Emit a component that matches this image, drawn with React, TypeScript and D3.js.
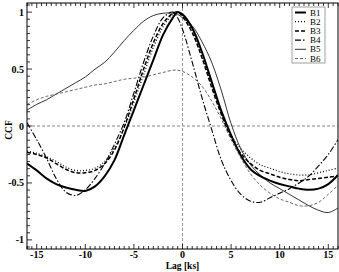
import React from 'react';
import * as d3 from 'd3';

// lags in ks, shared by all bands
const lags = [-16, -15, -14, -13, -12, -11, -10, -9, -8, -7, -6, -5, -4, -3, -2, -1, -0.5,
  0, 1, 2, 3, 4, 5, 6, 7, 8, 9, 10, 11, 12, 13, 14, 15, 16];

const b1 = [-0.33, -0.39, -0.46, -0.51, -0.54, -0.56, -0.57, -0.53, -0.44, -0.3, -0.08, 0.14, 0.36, 0.58, 0.8, 0.95, 1.0,
  0.98, 0.86, 0.65, 0.39, 0.13, -0.08, -0.26, -0.38, -0.44, -0.48, -0.51, -0.53, -0.55, -0.56, -0.55, -0.51, -0.43];
const b2 = [-0.22, -0.24, -0.27, -0.31, -0.36, -0.39, -0.39, -0.37, -0.31, -0.19, -0.02, 0.21, 0.45, 0.69, 0.87, 0.98, 1.0,
  0.97, 0.84, 0.62, 0.36, 0.11, -0.08, -0.2, -0.28, -0.34, -0.37, -0.4, -0.42, -0.43, -0.43, -0.41, -0.39, -0.37];
const b3 = [-0.23, -0.25, -0.28, -0.33, -0.38, -0.41, -0.41, -0.39, -0.33, -0.21, -0.01, 0.24, 0.5, 0.73, 0.9, 0.99, 1.0,
  0.96, 0.82, 0.6, 0.34, 0.1, -0.1, -0.24, -0.33, -0.39, -0.42, -0.45, -0.47, -0.48, -0.47, -0.46, -0.45, -0.44];
const b4 = [0.03, -0.12, -0.28, -0.46, -0.58, -0.61, -0.56, -0.46, -0.33, -0.16, 0.03, 0.29, 0.56, 0.79, 0.95, 1.0, 0.95,
  0.85, 0.56, 0.25, -0.03, -0.3, -0.48, -0.6, -0.66, -0.67, -0.63, -0.59, -0.55, -0.5, -0.44, -0.35, -0.25, -0.12];
const b5 = [0.14, 0.19, 0.23, 0.28, 0.33, 0.38, 0.43, 0.5, 0.56, 0.65, 0.75, 0.84, 0.92, 0.97, 0.99, 0.99, 0.98,
  0.95, 0.88, 0.74, 0.56, 0.31, 0.02, -0.2, -0.34, -0.43, -0.5, -0.55, -0.6, -0.65, -0.7, -0.74, -0.76, -0.72];
const b6 = [0.19, 0.23, 0.26, 0.28, 0.3, 0.32, 0.34, 0.36, 0.37, 0.39, 0.41, 0.42, 0.43, 0.45, 0.47, 0.49, 0.49,
  0.48, 0.43, 0.35, 0.22, 0.06, -0.12, -0.28, -0.42, -0.52, -0.59, -0.64, -0.67, -0.7, -0.7, -0.67, -0.6, -0.52];

const seriesNames = ['B1', 'B2', 'B3', 'B4', 'B5', 'B6'];
const seriesValues = [b1, b2, b3, b4, b5, b6];

const xTicks = [-15, -10, -5, 0, 5, 10, 15];
const yTicks = [-1, -0.5, 0, 0.5, 1];
const yTickLabels = ['-1', '-0.5', '0', '0.5', '1'];

// line styles per band
const styles = [
  { stroke: '#000', width: 2, dash: '' },
  { stroke: '#000', width: 1.2, dash: '1,2' },
  { stroke: '#000', width: 1.5, dash: '4,2' },
  { stroke: '#000', width: 1.1, dash: '6,2,1.5,2' },
  { stroke: '#000', width: 0.8, dash: '' },
  { stroke: '#555', width: 0.9, dash: '3,2' },
];

const W = 339;
const H = 272;
const M = { left: 27, right: 1, top: 3, bottom: 23 };
const font = "'Liberation Serif', 'DejaVu Serif', serif";

export default function App() {
  const x = d3.scaleLinear().domain([-16, 16]).range([M.left, W - M.right]);
  const y = d3.scaleLinear().domain([-1.08, 1.08]).range([H - M.bottom, M.top]);

  const line = d3.line<number>()
    .x((_, i) => x(lags[i]))
    .y((d) => y(d))
    .curve(d3.curveCatmullRom.alpha(0.5));

  const xMinor = d3.range(-16, 16.01, 0.5);
  const yMinor = d3.range(-1.0625, 1.07, 0.0625);

  const x0 = M.left, x1 = W - M.right, y0 = M.top, y1 = H - M.bottom;

  return (
    <svg width={W} height={H} style={{ position: 'absolute', left: 0, top: 0, background: '#fff' }}>
      <defs>
        <clipPath id="plot">
          <rect x={x0} y={y0} width={x1 - x0} height={y1 - y0} />
        </clipPath>
      </defs>

      {/* zero lines */}
      <line x1={x0} x2={x1} y1={y(0)} y2={y(0)} stroke="#888" strokeWidth={1} strokeDasharray="3,2" />
      <line x1={x(0)} x2={x(0)} y1={y0} y2={y1} stroke="#777" strokeWidth={0.8} strokeDasharray="3,2" />

      <g clipPath="url(#plot)">
        {seriesValues.map((vals, i) => (
          <path key={seriesNames[i]} d={line(vals) || ''} fill="none"
            stroke={styles[i].stroke} strokeWidth={styles[i].width}
            strokeDasharray={styles[i].dash || undefined} />
        ))}
      </g>

      {/* ticks */}
      <g stroke="#000" strokeWidth={0.8}>
        {xMinor.map((v) => {
          const major = xTicks.includes(v);
          const len = major ? 5 : 3;
          return (
            <g key={'xm' + v}>
              <line x1={x(v)} x2={x(v)} y1={y1} y2={y1 - len} />
              <line x1={x(v)} x2={x(v)} y1={y0} y2={y0 + len} />
            </g>
          );
        })}
        {yMinor.map((v) => {
          const major = yTicks.some((t) => Math.abs(t - v) < 1e-6);
          const len = major ? 5 : 3;
          return <line key={'ym' + v} x1={x0} x2={x0 + len} y1={y(v)} y2={y(v)} />;
        })}
      </g>

      <rect x={x0} y={y0} width={x1 - x0} height={y1 - y0} fill="none" stroke="#000" strokeWidth={1} />

      {/* tick labels */}
      <g fontFamily={font} fontWeight="bold" fontSize={10} fill="#000">
        {xTicks.map((t) => (
          <text key={'xl' + t} x={x(t)} y={y1 + 9} textAnchor="middle">{t}</text>
        ))}
        {yTicks.map((t, i) => (
          <text key={'yl' + t} x={x0 - 3} y={y(t) + 3.5} textAnchor="end">{yTickLabels[i]}</text>
        ))}
        <text x={x(0)} y={H - 3} textAnchor="middle" fontSize={9.5}>Lag [ks]</text>
        <text transform={`translate(12,${y(0) + 4}) rotate(-90)`} textAnchor="middle" fontSize={9.5}>CCF</text>
      </g>

      {/* legend */}
      <g>
        <rect x={292} y={7} width={33} height={56} fill="#fff" stroke="#888" strokeWidth={0.8} />
        {seriesNames.map((n, i) => {
          const ly = 12.5 + i * 9.2;
          return (
            <g key={'lg' + n}>
              <line x1={295} x2={306} y1={ly} y2={ly} stroke={styles[i].stroke}
                strokeWidth={styles[i].width} strokeDasharray={styles[i].dash || undefined} />
              <text x={310} y={ly + 3} fontFamily={font} fontSize={9}>{n}</text>
            </g>
          );
        })}
      </g>
    </svg>
  );
}
